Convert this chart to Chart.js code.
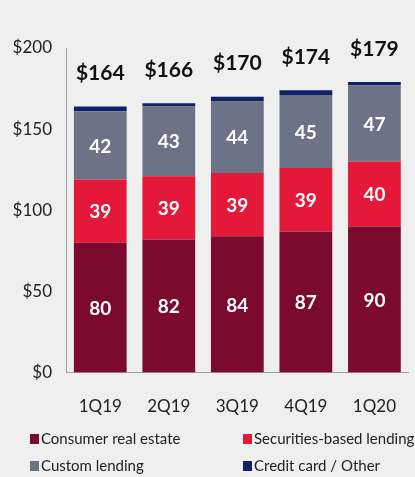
<!DOCTYPE html>
<html><head><meta charset="utf-8">
<script src="https://cdn.jsdelivr.net/npm/chart.js@4/dist/chart.umd.min.js"></script>
<style>
html,body{margin:0;padding:0;background:#efefef;overflow:hidden;}
#wrap{width:420px;height:477px;position:relative;}
</style></head><body>
<div id="wrap"><canvas id="c" width="420" height="477"></canvas></div>
<script>
const categories = ['1Q19','2Q19','3Q19','4Q19','1Q20'];
const consumerRealEstate = [80, 82, 84, 87, 90];
const securitiesBased = [39, 39, 39, 39, 40];
const customLending = [42, 43, 44, 45, 47];
const creditCardOther = [3, 2, 3, 3, 2];
const totals = [164, 166, 170, 174, 179];
const yTicks = [0, 50, 100, 150, 200];
const seriesNames = ['Consumer real estate','Securities-based lending','Custom lending','Credit card / Other'];
const colors = ['#7b0a2e','#e4193a','#6c7386','#0d2166'];
const FONT = 'Lato, "Open Sans", sans-serif';

const labelPlugin = {
  id: 'labels',
  afterDatasetsDraw(chart) {
    const ctx = chart.ctx;
    ctx.save();
    ctx.textAlign = 'center';
    ctx.textBaseline = 'middle';
    [0,1,2].forEach(di => {
      const meta = chart.getDatasetMeta(di);
      meta.data.forEach((bar, i) => {
        const v = chart.data.datasets[di].data[i];
        ctx.fillStyle = '#ffffff';
        ctx.font = 'bold 19px ' + FONT;
        ctx.fillText(String(v), bar.x, (bar.y + bar.base) / 2 + 1);
      });
    });
    const top = chart.getDatasetMeta(3);
    top.data.forEach((bar, i) => {
      ctx.fillStyle = '#111111';
      ctx.font = 'bold 21px ' + FONT;
      ctx.fillText('$' + totals[i], bar.x, chart.scales.y.getPixelForValue(totals[i]) - 33);
    });
    ctx.textAlign = 'left';
    ctx.font = '15px ' + FONT;
    const pos = [[30, 439], [243, 439], [30, 466], [243, 466]];
    seriesNames.forEach((n, k) => {
      const [x, y] = pos[k];
      ctx.fillStyle = colors[k];
      ctx.fillRect(x, y - 5, 9, 10);
      ctx.fillStyle = '#222222';
      ctx.fillText(n, x + 11, y);
    });
    ctx.restore();
  }
};

const datasets = [consumerRealEstate, securitiesBased, customLending, creditCardOther].map((d, k) => ({
  label: seriesNames[k], data: d, backgroundColor: colors[k],
  barPercentage: 0.77, categoryPercentage: 1.0, borderWidth: 0
}));

new Chart(document.getElementById('c'), {
  type: 'bar',
  data: { labels: categories, datasets },
  options: {
    responsive: false, animation: false,
    layout: { padding: { top: 48, bottom: 36, left: 0, right: 0 } },
    plugins: { legend: { display: false }, tooltip: { enabled: false } },
    scales: {
      x: {
        stacked: true,
        grid: { display: false, drawTicks: false },
        border: { color: '#a0a0a0', width: 1 },
        ticks: { color: '#222', font: { family: FONT, size: 17 }, padding: 24 }
      },
      y: {
        stacked: true, min: 0, max: 200,
        afterBuildTicks(s) { s.ticks = yTicks.map(v => ({ value: v })); },
        afterFit(s) { s.width = 66; },
        grid: { display: false, drawTicks: false },
        border: { color: '#a0a0a0', width: 1 },
        ticks: { color: '#222', font: { family: FONT, size: 17 }, padding: 14, callback: v => '$' + v }
      }
    }
  },
  plugins: [labelPlugin]
});
</script>
</body></html>
